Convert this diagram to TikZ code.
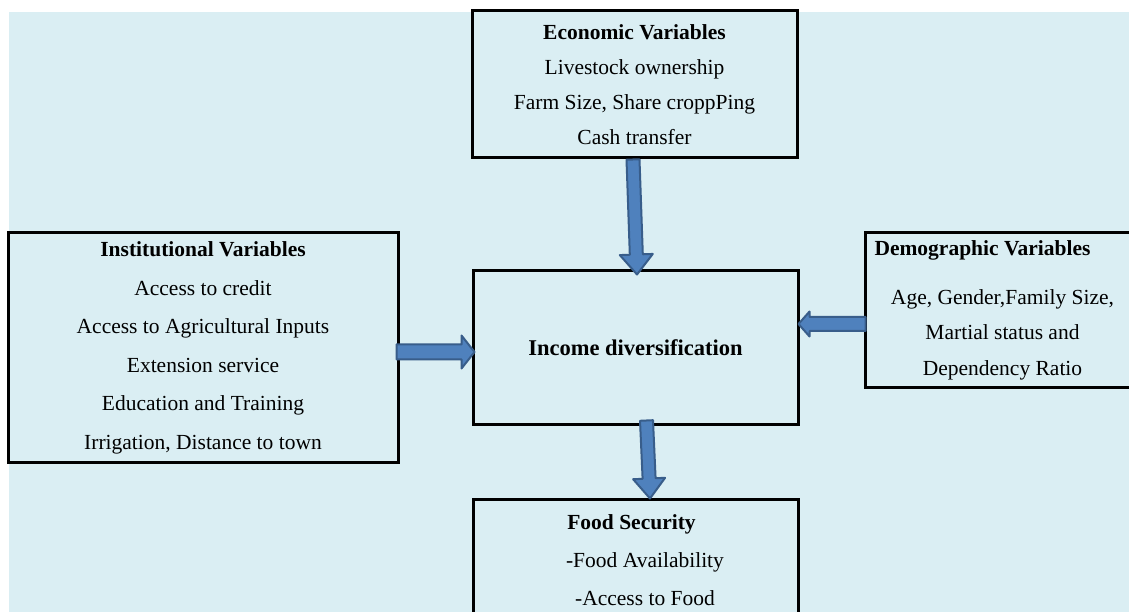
\documentclass[tikz,border=0pt]{standalone}
\usepackage{fontspec}
\setmainfont{Liberation Serif}
\usetikzlibrary{calc}
\definecolor{paperblue}{RGB}{218,238,243}
\definecolor{arrowfill}{RGB}{79,129,189}
\definecolor{arrowedge}{RGB}{56,93,138}

\tikzset{
  factor box/.style={
    draw=black,
    line width=3pt,
    fill=paperblue,
    align=center,
    inner sep=0pt,
    font=\fontsize{21.5}{37}\selectfont
  },
  block arrow/.style={
    fill=arrowfill,
    draw=arrowedge,
    line width=2pt,
    line join=round
  }
}

\begin{document}
\begin{tikzpicture}[x=1pt,y=1pt]

% Each block arrow is specified as:
% \blockarrow{from}{to}{shaft half width}{head half width}{head length}
\newcommand{\blockarrow}[5]{%
  \path (#1) coordinate (ba-s) (#2) coordinate (ba-e);
  \coordinate (ba-h) at ($(ba-e)!#5!(ba-s)$);
  \filldraw[block arrow]
    ($(ba-s)!#3!90:(ba-e)$) -- ($(ba-h)!#3!90:(ba-e)$)
    -- ($(ba-h)!#4!90:(ba-e)$) -- (ba-e)
    -- ($(ba-h)!#4!-90:(ba-e)$) -- ($(ba-h)!#3!-90:(ba-e)$)
    -- ($(ba-s)!#3!-90:(ba-e)$) -- cycle;
}

\useasboundingbox (0,0) rectangle (1129,612);

% Light blue page.
\fill[paperblue] (9,0) rectangle (1129,600);

% Factor boxes.
\node[factor box, minimum width=325, minimum height=147,
      font=\fontsize{21.5}{35}\selectfont] (eco) at (634.5,527.5)
  {\textbf{Economic Variables}\\ Livestock ownership\\
   Farm Size, Share croppPing\\ Cash transfer};

\node[factor box, minimum width=390, minimum height=230,
      font=\fontsize{21.5}{38.5}\selectfont] (inst) at (203,264)
  {\textbf{Institutional Variables}\\ Access to credit\\
   Access to Agricultural Inputs\\ Extension service\\
   Education and Training\\ Irrigation, Distance to town};

\node[factor box, minimum width=275, minimum height=155,
      font=\fontsize{21.5}{35.5}\selectfont] (demo) at (1002.5,301.5)
  {\textbf{Demographic Variables}\hspace*{40pt}\\[13pt]
   Age, Gender,Family Size,\\ Martial status and\\ Dependency Ratio};

\node[factor box, minimum width=325, minimum height=154,
      font=\fontsize{22.5}{27}\selectfont\bfseries] (inc) at (635.5,264)
  {Income diversification};

\node[factor box, minimum width=325, minimum height=120,
      font=\fontsize{21.5}{38}\selectfont] (food) at (635.5,52)
  {\textbf{Food Security}\hspace*{8pt}\\ \hspace*{19pt}-Food Availability\\
   \hspace*{19pt}-Access to Food};

% Arrows into and out of income diversification.
\blockarrow{[xshift=-1.5pt]eco.south}{[shift={(1.5pt,-5pt)}]inc.north}{6.5pt}{16.5pt}{20pt}
\blockarrow{[shift={(-3pt,-4pt)}]inst.east}{[shift={(3pt,-4pt)}]inc.west}{7.5pt}{16.5pt}{13pt}
\blockarrow{[shift={(2pt,-13.5pt)}]demo.west}{[shift={(-1pt,24pt)}]inc.east}{7pt}{12.5pt}{11pt}
\blockarrow{[shift={(11pt,6pt)}]inc.south}{[xshift=14.5pt]food.north}{6.5pt}{16pt}{20pt}

\end{tikzpicture}
\end{document}
